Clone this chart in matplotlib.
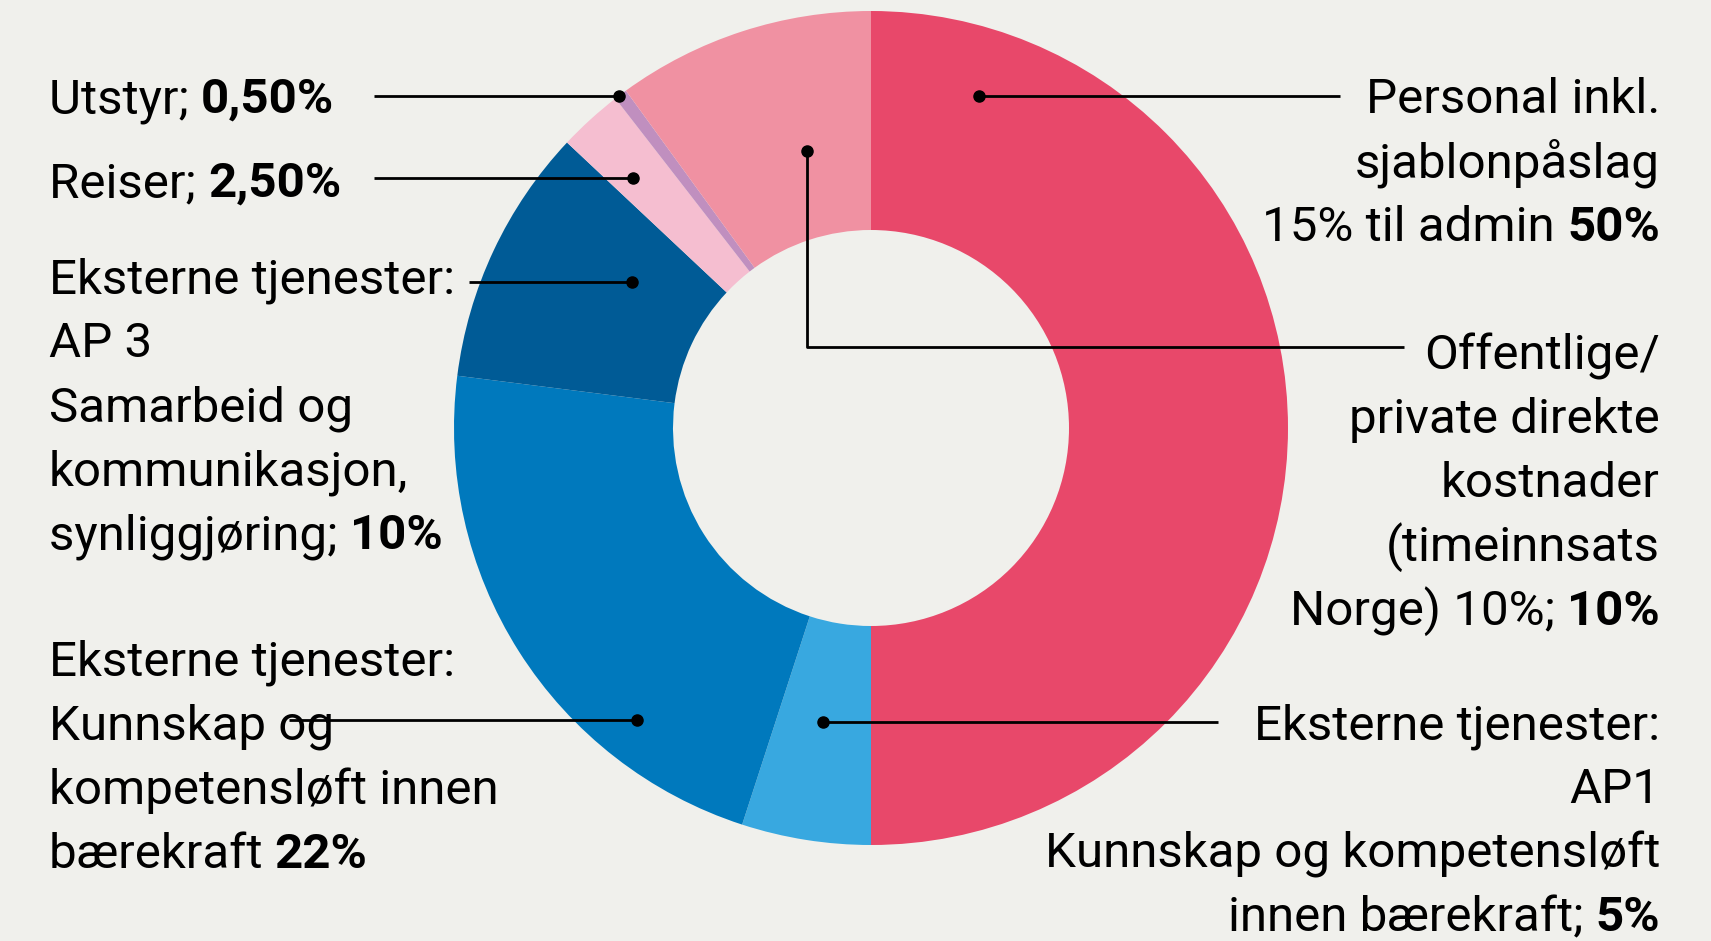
import matplotlib.pyplot as plt

# budget shares (clockwise from 12 o'clock)
categories = [
    "Personal inkl. sjablonpåslag 15% til admin",
    "Eksterne tjenester: AP1",
    "Eksterne tjenester: Kunnskap og kompetensløft",
    "Eksterne tjenester: AP 3",
    "Reiser",
    "Utstyr",
    "Offentlige/private direkte kostnader",
]
shares = [50, 5, 22, 10, 2.5, 0.5, 10]
colors = ["#E8486A", "#38A8E0", "#0079BD", "#005B96", "#F5BED0", "#C08FBF", "#F091A2"]

BG = "#F0F0EC"
FONT = "Roboto"
FS = 35.5

fig = plt.figure(figsize=(17.11, 9.41), dpi=100, facecolor=BG)
ax = fig.add_axes([0, 0, 1, 1])
ax.set_facecolor(BG)

# donut, working in pixel-like data units
cx, cy, R = 871, 513, 417
ax.pie(shares, colors=colors, startangle=90, counterclock=False,
       center=(cx, cy), radius=R,
       wedgeprops=dict(width=219, linewidth=0))
ax.set_xlim(0, 1711)
ax.set_ylim(0, 941)
ax.axis("off")


def text_line(x, y, parts, ha="left"):
    # parts: list of (text, bold?) drawn on one baseline
    if ha == "left":
        prev = ax.text(x, y, parts[0][0], ha="left", va="baseline", fontsize=FS,
                       family=FONT, fontweight="bold" if parts[0][1] else "normal")
        for s, b in parts[1:]:
            prev = ax.annotate(s, xy=(1, y), xycoords=(prev, "data"), ha="left",
                               va="baseline", fontsize=FS, family=FONT,
                               fontweight="bold" if b else "normal")
    else:
        prev = ax.text(x, y, parts[-1][0], ha="right", va="baseline", fontsize=FS,
                       family=FONT, fontweight="bold" if parts[-1][1] else "normal")
        for s, b in reversed(parts[:-1]):
            prev = ax.annotate(s, xy=(0, y), xycoords=(prev, "data"), ha="right",
                               va="baseline", fontsize=FS, family=FONT,
                               fontweight="bold" if b else "normal")


def block(x, y_top, lines, ha="left", step=64):
    for i, parts in enumerate(lines):
        text_line(x, y_top - 17 - i * step, parts, ha)


def leader(xs, ys):
    ax.plot(xs, ys, color="black", lw=2, solid_capstyle="butt", zorder=5)
    ax.plot(xs[0], ys[0], "o", color="black", ms=8, zorder=6)


LX, RX = 49, 1660

# left labels
block(LX, 845, [[("Utstyr; ", False), ("0,50%", True)]])
leader([619, 374], [845, 845])

block(LX, 761, [[("Reiser; ", False), ("2,50%", True)]])
leader([633, 374], [763, 763])

block(LX, 665, [[("Eksterne tjenester:", False)],
                [("AP 3", False)],
                [("Samarbeid og", False)],
                [("kommunikasjon,", False)],
                [("synliggjøring; ", False), ("10%", True)]])
leader([632, 469], [659, 659])

block(LX, 282, [[("Eksterne tjenester:", False)],
                [("Kunnskap og", False)],
                [("kompetensløft innen", False)],
                [("bærekraft ", False), ("22%", True)]])
leader([637, 289], [221, 221])

# right labels
block(RX, 845, [[("Personal inkl.", False)],
                [("sjablonpåslag", False)],
                [("15% til admin ", False), ("50%", True)]], ha="right")
leader([979, 1340], [845, 845])

block(RX, 589, [[("Offentlige/", False)],
                [("private direkte", False)],
                [("kostnader", False)],
                [("(timeinnsats", False)],
                [("Norge) 10%; ", False), ("10%", True)]], ha="right")
leader([807, 807, 1404], [790, 594, 594])

block(RX, 219, [[("Eksterne tjenester:", False)],
                [("AP1", False)],
                [("Kunnskap og kompetensløft", False)],
                [("innen bærekraft; ", False), ("5%", True)]], ha="right")
leader([823, 1218], [219, 219])

fig.savefig("out.png", dpi=100, facecolor=BG)
